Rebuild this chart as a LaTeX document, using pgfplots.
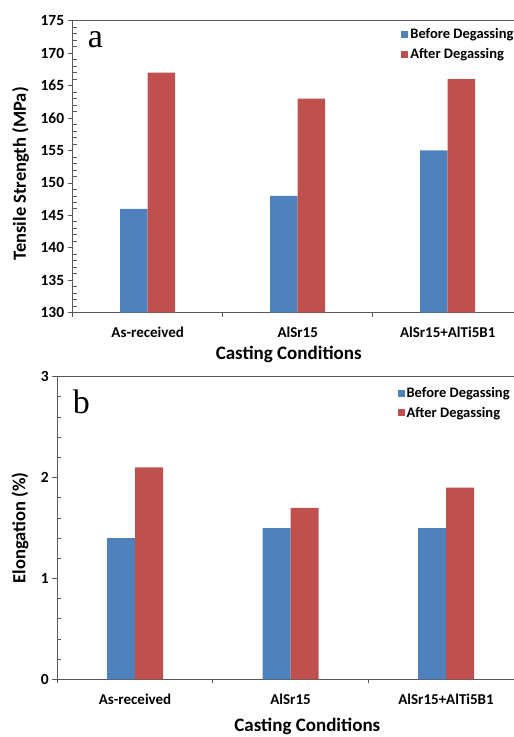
\documentclass[border=0pt]{standalone}
\usepackage{pgfplots}
\pgfplotsset{compat=1.18}
\usepackage{fontspec}
\setmainfont{Carlito}
\newfontfamily\seriffont{Liberation Serif}
\definecolor{cblue}{HTML}{4F81BD}
\definecolor{cred}{HTML}{C0504D}
\definecolor{axgray}{HTML}{595959}
\newcommand{\legfont}{\fontsize{14.5}{18}\selectfont\bfseries}
\pgfplotsset{
 mybase/.style={
  scale only axis,
  ybar=0pt,
  xmin=-0.5, xmax=2.5,
  xtick={0,1,2},
  xticklabels={As-received,AlSr15,AlSr15+AlTi5B1},
  minor xtick={-0.5,0.5,1.5,2.5},
  major x tick style={draw=none},
  tick align=outside,
  xtick pos=bottom, ytick pos=left,
  major tick length=5pt, minor tick length=4pt,
  minor y tick style={xshift=4pt},
  minor y tick num=4,
  separate axis lines,
  axis line style={draw=axgray, line width=1.2pt},
  every outer x axis line/.append style={draw=axgray, line width=1.2pt},
  every outer y axis line/.append style={draw=axgray, line width=1.2pt},
  tick style={axgray, line width=0.8pt},
  yticklabel style={font=\fontsize{15.5}{18}\selectfont\bfseries},
  xticklabel style={font=\fontsize{15}{18}\selectfont\bfseries, yshift=-6pt},
  /pgf/number format/assume math mode=true,
  xlabel style={font=\fontsize{19}{22}\selectfont\bfseries},
  ylabel style={font=\fontsize{18.5}{22}\selectfont\bfseries},
  legend style={draw=none, fill=none, font=\legfont,
    row sep=4pt, inner sep=0pt, cells={anchor=west}, anchor=north west},
  legend image code/.code={\fill[##1] (0pt,-3.5pt) rectangle (7pt,3.5pt);},
 }
}
\begin{document}
\begin{tikzpicture}
% panel a
\begin{axis}[mybase,
  at={(72.7pt,-312.7pt)}, anchor=south west,
  width=450pt, height=292pt,
  bar width=27.5pt,
  ymin=130, ymax=175, ytick={130,135,...,175},
  xlabel={Casting Conditions},
  ylabel={Tensile Strength (MPa)},
  xlabel style={at={(axis description cs:0.48,-0.144)}, anchor=center},
  ylabel style={at={(axis description cs:-0.1156,0.476)}, anchor=center},
  legend style={at={(axis description cs:0.730,0.980)}},
]
\addplot[fill=cblue, draw=none] coordinates {(0,146) (1,148) (2,155)};
\addplot[fill=cred, draw=none] coordinates {(0,167) (1,163) (2,166)};
\legend{Before Degassing, After Degassing}
\node[anchor=base west, inner sep=0pt, font=\seriffont\fontsize{34}{40}\selectfont] at (axis description cs:0.033,0.9075) {a};
\end{axis}
% panel b
\begin{axis}[mybase,
  at={(57.3pt,-679.3pt)}, anchor=south west,
  width=466.5pt, height=302.6pt,
  bar width=28pt,
  ymin=0, ymax=3, ytick={0,1,2,3},
  xlabel={Casting Conditions},
  ylabel={Elongation (\%)},
  xlabel style={at={(axis description cs:0.536,-0.155)}, anchor=center},
  ylabel style={at={(axis description cs:-0.08,0.5)}, anchor=center},
  legend style={at={(axis description cs:0.729,0.972)}},
]
\addplot[fill=cblue, draw=none] coordinates {(0,1.4) (1,1.5) (2,1.5)};
\addplot[fill=cred, draw=none] coordinates {(0,2.1) (1,1.7) (2,1.9)};
\legend{Before Degassing, After Degassing}
\node[anchor=base west, inner sep=0pt, font=\seriffont\fontsize{34}{40}\selectfont] at (axis description cs:0.033,0.88) {b};
\end{axis}
\pgfresetboundingbox
\path[use as bounding box] (0pt,0pt) rectangle (514pt,-737pt);
\end{tikzpicture}
\end{document}
